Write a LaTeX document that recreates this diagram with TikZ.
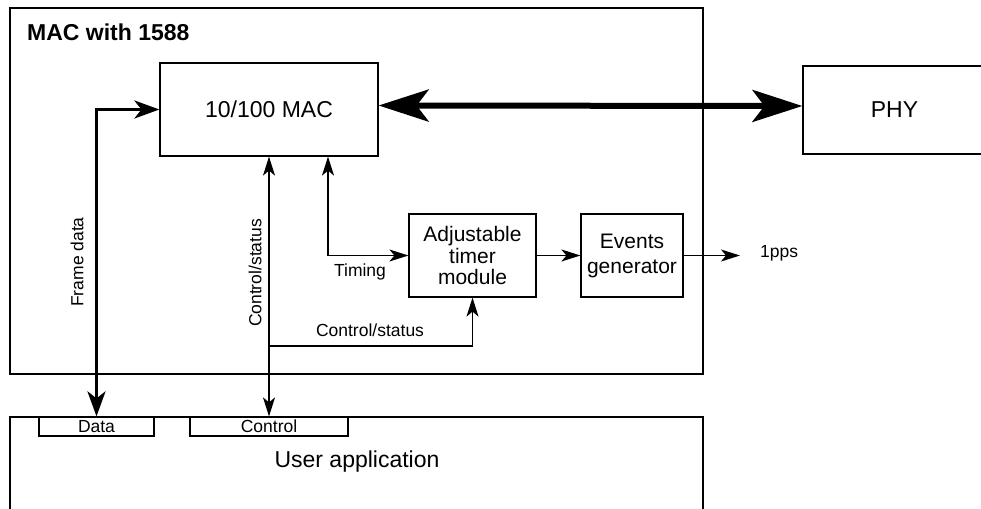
\documentclass[tikz,border=0pt]{standalone}
\usepackage{fontspec}
\setmainfont{Liberation Sans}
\usetikzlibrary{arrows.meta,positioning}
\tikzset{
  blk/.style={draw,line width=1.2pt,inner sep=0pt,align=center,
              font=\fontsize{23}{26}\selectfont},
  port/.style={draw,line width=1.2pt,inner sep=0pt,minimum height=19pt,
              font=\fontsize{17.5}{19}\selectfont},
  lbl/.style={inner sep=0pt,font=\fontsize{17.5}{19}\selectfont},
  sig/.style={line width=1.3pt,-{Stealth[length=19pt,width=12pt,inset=5pt]}},
  bisig/.style={line width=1.3pt,
              {Stealth[length=19pt,width=12pt,inset=5pt]}-{Stealth[length=19pt,width=12pt,inset=5pt]}},
  databus/.style={line width=3.3pt,
              {Stealth[length=25pt,width=18pt,inset=7pt]}-{Stealth[length=25pt,width=18pt,inset=7pt]}},
  phylink/.style={line width=6pt,
              {Stealth[length=50pt,width=32pt,inset=12pt]}-{Stealth[length=50pt,width=32pt,inset=12pt]}},
}

\begin{document}
\begin{tikzpicture}[x=1pt,y=-1pt]
  \useasboundingbox (0,0) rectangle (981,508);
  \clip (0,0) rectangle (981,508);
  % MAC with 1588 enclosure
  \node[blk,minimum width=693pt,minimum height=366pt] (core) at (356.5,191) {};
  \node[lbl,anchor=west,font=\fontsize{23}{26}\selectfont\bfseries] (title) at (27,32) {MAC with 1588};
  % blocks
  \node[blk,minimum width=218pt,minimum height=93pt] (mac) at (269,109.5) {10/100 MAC};
  \node[blk,minimum width=183pt,minimum height=88pt] (phy) at (894.5,110) {PHY};
  \node[blk,minimum width=127pt,minimum height=83pt,font=\fontsize{21}{21.5}\selectfont]
    (timer) at (472.5,255.5) {Adjustable\\timer\\module};
  \node[blk,minimum width=102pt,minimum height=83pt,font=\fontsize{21}{25}\selectfont]
    (events) at (632,255.5) {Events\\generator};
  % user side
  \node[blk,minimum width=693pt,minimum height=110pt] (user) at (356.5,472) {};
  \node[lbl,font=\fontsize{23}{26}\selectfont] (usertxt) at (357,462) {User application};
  \node[port,minimum width=115pt] (data) at (96.5,426.5) {Data};
  \node[port,minimum width=158pt] (ctrl) at (269,426.5) {Control};
  % connections
  \draw[phylink] ([yshift=4pt]mac.east) -- ([yshift=4pt]phy.west);
  \draw[databus] (data.north) |- (mac.west);
  \draw[bisig] (ctrl.north) -- (mac.south);
  \draw[bisig] ([xshift=59pt]mac.south) |- (timer.west);
  \draw[sig] (timer) -- (events);
  \coordinate (ppsend) at (740,255.5);
  \draw[sig] (events.east) -- (ppsend);
  \node[lbl,anchor=west] (pps) at (760,253) {1pps};
  \coordinate (csjoin) at (269,346);
  \draw[sig] (csjoin) -| (timer.south);
  % labels
  \node[lbl] (timinglbl) at (360,272) {Timing};
  \node[lbl] (cslbl) at (370,330) {Control/status};
  \node[lbl,rotate=90] (csvlbl) at (255,273) {Control/status};
  \node[lbl,rotate=90] (framelbl) at (77,262) {Frame data};
\end{tikzpicture}
\end{document}
